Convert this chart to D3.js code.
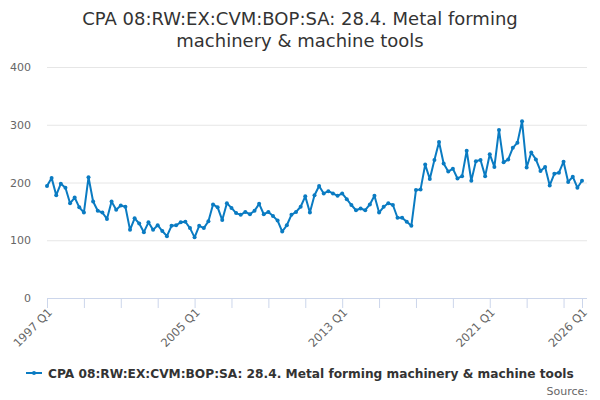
<!DOCTYPE html>
<html>
<head>
<meta charset="utf-8">
<script src="https://cdn.jsdelivr.net/npm/d3@7"></script>
<style>
  html, body { margin: 0; padding: 0; background: #fff; }
  svg { display: block; font-family: "DejaVu Sans", sans-serif; }
</style>
</head>
<body>
<div id="chart"></div>
<script>
const titleLines = ["CPA 08:RW:EX:CVM:BOP:SA: 28.4. Metal forming", "machinery & machine tools"];
const seriesName = "CPA 08:RW:EX:CVM:BOP:SA: 28.4. Metal forming machinery & machine tools";
const startYear = 1997;
const values = [
  194, 208, 178, 198, 191, 164, 174, 157, 148, 209,
  167, 151, 148, 137, 167, 153, 160, 158, 118, 138,
  129, 114, 131, 118, 126, 116, 107, 125, 126, 131,
  132, 121, 105, 125, 121, 133, 162, 157, 135, 164,
  156, 147, 144, 149, 145, 151, 163, 145, 149, 142,
  134, 115, 126, 144, 149, 158, 176, 148, 178, 194,
  181, 185, 181, 177, 181, 171, 161, 152, 155, 152,
  162, 177, 148, 158, 164, 161, 139, 139, 132, 125,
  187, 188, 231, 206, 239, 270, 233, 219, 224, 207,
  211, 255, 203, 237, 239, 211, 249, 227, 291, 235,
  240, 260, 269, 306, 226, 252, 240, 220, 227, 195,
  215, 217, 236, 201, 210, 191, 203
];
const categories = values.map((v, i) => `${startYear + Math.floor(i / 4)} Q${(i % 4) + 1}`);
const yTicks = [0, 100, 200, 300, 400];
const xLabelCats = ["1997 Q1", "2005 Q1", "2013 Q1", "2021 Q1", "2026 Q1"];

(function () {
const W = 600, H = 400;
const mLeft = 47, mRight = 582, mTop = 67, mBottom = 298;
const lineColor = "#0a7bc2";

const svg = d3.select("#chart").append("svg").attr("width", W).attr("height", H);

// Title
const title = svg.append("text").attr("text-anchor", "middle")
  .attr("font-size", 18).attr("fill", "#333");
titleLines.forEach((t, i) => {
  title.append("tspan").attr("x", W / 2).attr("y", 25 + i * 22).text(t);
});

const x = d3.scalePoint().domain(categories).range([mLeft, mRight]);
const y = d3.scaleLinear().domain([0, 400]).range([mBottom, mTop]);

// Grid lines + y labels
const yAxis = d3.axisLeft(y).tickValues(yTicks).tickSize(-(mRight - mLeft + 5)).tickPadding(16);
const gy = svg.append("g").attr("transform", `translate(${mLeft},0)`).call(yAxis);
gy.select(".domain").remove();
gy.selectAll(".tick line").attr("stroke", "#e6e6e6").attr("stroke-width", 1);
gy.selectAll(".tick text").attr("font-size", 11).attr("fill", "#666")
  .attr("font-family", "DejaVu Sans, sans-serif");

// X axis
const tickCats = categories.filter((c, i) => i % 8 === 0).concat([categories[categories.length - 1]]);
const xAxis = d3.axisBottom(x).tickValues(tickCats).tickSize(10).tickFormat(() => "");
const gx = svg.append("g").attr("transform", `translate(0,${mBottom})`).call(xAxis);
gx.select(".domain").attr("stroke", "#ccd6eb").attr("d", `M${mLeft},0.5H${mRight + 5}`);
gx.selectAll(".tick line").attr("stroke", "#ccd6eb");

svg.append("g").selectAll("text").data(xLabelCats).join("text")
  .attr("transform", d => `translate(${x(d) + 6},${mBottom + 15}) rotate(-45)`)
  .attr("text-anchor", "end").attr("font-size", 11.5).attr("fill", "#666")
  .text(d => d);

// Line
const line = d3.line().x((d, i) => x(categories[i])).y(d => y(d));
svg.append("path").datum(values).attr("d", line)
  .attr("fill", "none").attr("stroke", lineColor).attr("stroke-width", 2)
  .attr("stroke-linejoin", "round");
svg.append("g").selectAll("circle").data(values).join("circle")
  .attr("cx", (d, i) => x(categories[i])).attr("cy", d => y(d))
  .attr("r", 2).attr("fill", lineColor);

// Legend
const lg = svg.append("g");
lg.append("text").attr("x", 48).attr("y", 377.5)
  .attr("font-size", 12.2).attr("font-weight", "bold").attr("fill", "#333")
  .text(seriesName);
lg.append("line").attr("x1", 26).attr("x2", 42).attr("y1", 373).attr("y2", 373)
  .attr("stroke", lineColor).attr("stroke-width", 2);
lg.append("circle").attr("cx", 34).attr("cy", 373).attr("r", 2).attr("fill", lineColor);

// Source
svg.append("text").attr("x", 588).attr("y", 395).attr("text-anchor", "end")
  .attr("font-size", 11).attr("fill", "#666").text("Source:");
})();
</script>
</body>
</html>
